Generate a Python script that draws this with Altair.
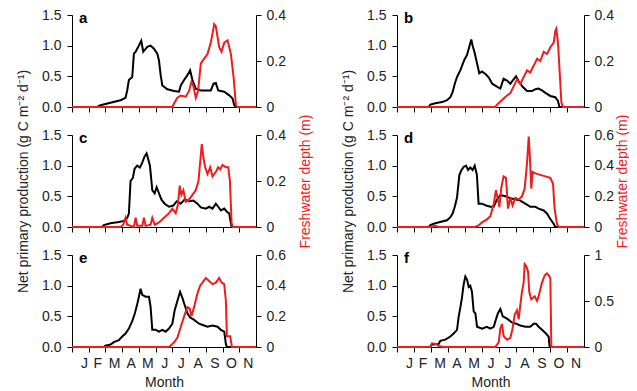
import altair as alt
import pandas as pd

# x values are months since 1 January (0 = 1 Jan, 11 = 1 Dec)
months = ['J', 'F', 'M', 'A', 'M', 'J', 'J', 'A', 'S', 'O', 'N']
letters = ['a', 'b', 'c', 'd', 'e', 'f']
right_max = [0.4, 0.4, 0.4, 0.6, 0.6, 1.0]
right_ticks = [[0, 0.2, 0.4], [0, 0.2, 0.4], [0, 0.2, 0.4],
               [0, 0.2, 0.4, 0.6], [0, 0.2, 0.4, 0.6], [0, 0.5, 1]]

# ---- panel a ----
a_npp_t = [0, 1.5, 1.7, 2.3, 2.9, 3.2, 3.3, 3.4, 3.6, 3.7, 3.8, 4.0, 4.14, 4.26, 4.5, 4.7, 4.9, 5.1, 5.2,
           5.3, 5.4, 5.7, 6.1, 6.4, 6.5, 6.7, 6.9, 7.06, 7.2, 7.4, 7.7, 8.3, 8.46, 8.6, 8.74, 9.1, 9.4,
           9.6, 9.7, 9.8, 11]
a_npp_v = [0, 0, 0.03, 0.07, 0.11, 0.15, 0.27, 0.44, 0.49, 0.87, 0.90, 1.0, 1.08, 0.90, 0.98, 1.0, 0.95,
           0.87, 0.76, 0.52, 0.35, 0.29, 0.26, 0.25, 0.35, 0.44, 0.52, 0.60, 0.44, 0.30, 0.27, 0.27,
           0.38, 0.39, 0.27, 0.25, 0.19, 0.14, 0.03, 0, 0]
a_fw_t = [0, 6.0, 6.1, 6.3, 6.5, 6.8, 7.0, 7.14, 7.26, 7.4, 7.54, 7.7, 7.9, 8.1, 8.3, 8.5, 8.6, 8.8, 8.94,
          9.1, 9.3, 9.5, 9.66, 9.8, 9.9, 11]
a_fw_v = [0, 0, 0.015, 0.04, 0.05, 0.045, 0.07, 0.11, 0.09, 0.04, 0.07, 0.19, 0.21, 0.23, 0.28, 0.36,
          0.35, 0.26, 0.24, 0.28, 0.29, 0.23, 0.13, 0.007, 0, 0]

# ---- panel b ----
b_npp_t = [0, 1.86, 1.96, 2.25, 2.65, 2.94, 3.14, 3.27, 3.4, 3.53, 3.73, 3.86, 3.98, 4.12, 4.25, 4.37,
           4.45, 4.57, 4.7, 4.84, 5.0, 5.2, 5.4, 5.6, 5.78, 6.08, 6.27, 6.47, 6.67, 6.86, 7.0, 7.16, 7.39,
           7.65, 7.94, 8.14, 8.33, 8.53, 8.73, 9.02, 9.31, 9.47, 9.55, 11]
b_npp_v = [0, 0, 0.04, 0.06, 0.08, 0.11, 0.16, 0.24, 0.38, 0.49, 0.60, 0.70, 0.78, 0.85, 0.98, 1.10,
           1.0, 0.88, 0.72, 0.55, 0.58, 0.54, 0.48, 0.38, 0.35, 0.30, 0.46, 0.43, 0.38, 0.45, 0.50, 0.42,
           0.33, 0.26, 0.26, 0.29, 0.30, 0.27, 0.23, 0.18, 0.16, 0.10, 0, 0]
b_fw_t = [0, 5.78, 5.88, 6.18, 6.47, 6.67, 6.86, 7.06, 7.25, 7.45, 7.65, 7.84, 8.04, 8.24, 8.43, 8.63,
          8.82, 9.02, 9.22, 9.31, 9.37, 9.47, 9.57, 9.67, 9.75, 11]
b_fw_v = [0, 0, 0.01, 0.03, 0.05, 0.06, 0.09, 0.12, 0.10, 0.13, 0.16, 0.15, 0.18, 0.21, 0.20, 0.24,
          0.23, 0.26, 0.28, 0.33, 0.34, 0.28, 0.15, 0.02, 0, 0]

# ---- panel c ----
c_npp_t = [0, 1.8, 1.9, 2.3, 2.8, 3.1, 3.3, 3.4, 3.5, 3.64, 3.74, 3.9, 4.06, 4.2, 4.34, 4.46, 4.56,
           4.66, 4.8, 4.94, 5.06, 5.2, 5.34, 5.54, 5.8, 6.06, 6.26, 6.5, 6.74, 7.0, 7.26, 7.5, 7.7, 8.0,
           8.2, 8.4, 8.6, 8.74, 8.9, 9.1, 9.26, 9.4, 9.5, 9.54, 11]
c_npp_v = [0, 0, 0.03, 0.06, 0.08, 0.10, 0.15, 0.22, 0.75, 0.80, 0.95, 1.0, 0.97, 1.05, 1.15, 1.20,
           1.10, 1.0, 0.60, 0.55, 0.65, 0.55, 0.45, 0.38, 0.33, 0.35, 0.42, 0.38, 0.45, 0.42, 0.43,
           0.38, 0.32, 0.30, 0.33, 0.30, 0.38, 0.33, 0.27, 0.30, 0.25, 0.22, 0.06, 0, 0]
c_fw_t = [0, 2.9, 3.06, 3.2, 3.3, 3.7, 3.8, 3.9, 4.2, 4.3, 4.4, 4.7, 4.8, 4.94, 5.2, 5.5, 5.8, 6.0,
          6.2, 6.34, 6.44, 6.54, 6.66, 6.8, 7.0, 7.2, 7.4, 7.56, 7.66, 7.76, 7.86, 7.96, 8.1, 8.26,
          8.4, 8.6, 8.74, 8.86, 9.0, 9.2, 9.34, 9.44, 9.54, 9.6, 11]
c_fw_v = [0, 0, 0.01, 0.04, 0.01, 0, 0.04, 0.005, 0.005, 0.04, 0.005, 0.01, 0.04, 0.01, 0.02, 0.04,
          0.06, 0.08, 0.06, 0.10, 0.18, 0.14, 0.16, 0.11, 0.12, 0.14, 0.16, 0.20, 0.28, 0.36, 0.30,
          0.26, 0.23, 0.26, 0.22, 0.24, 0.26, 0.25, 0.27, 0.26, 0.26, 0.20, 0.02, 0, 0]

# ---- panel d ----
d_npp_t = [0, 1.86, 1.96, 2.25, 2.65, 2.94, 3.14, 3.27, 3.4, 3.53, 3.67, 3.78, 3.92, 4.06, 4.18, 4.31,
           4.45, 4.57, 4.7, 4.8, 5.0, 5.24, 5.49, 5.69, 5.88, 6.08, 6.37, 6.67, 6.96, 7.25, 7.55, 7.84,
           8.14, 8.33, 8.63, 8.82, 9.02, 9.22, 9.31, 11]
d_npp_v = [0, 0, 0.03, 0.06, 0.09, 0.11, 0.16, 0.22, 0.33, 0.48, 0.85, 0.92, 0.98, 1.0, 0.93, 0.97,
           0.93, 1.0, 0.85, 0.38, 0.38, 0.35, 0.33, 0.33, 0.45, 0.52, 0.50, 0.47, 0.45, 0.43, 0.38,
           0.33, 0.33, 0.30, 0.27, 0.22, 0.13, 0.05, 0, 0]
d_fw_t = [0, 2.06, 2.16, 2.45, 4.6, 4.8, 5.0, 5.29, 5.49, 5.69, 5.82, 5.94, 6.02, 6.14, 6.27, 6.41,
          6.53, 6.67, 6.8, 6.96, 7.16, 7.35, 7.51, 7.65, 7.75, 7.82, 7.9, 7.98, 8.14, 8.43, 8.73, 9.02,
          9.18, 9.27, 9.41, 9.51, 11]
d_fw_v = [0, 0, 0.01, 0, 0, 0.01, 0.03, 0.05, 0.07, 0.15, 0.24, 0.18, 0.13, 0.26, 0.33, 0.32, 0.12,
          0.19, 0.14, 0.19, 0.18, 0.20, 0.25, 0.42, 0.59, 0.45, 0.25, 0.36, 0.35, 0.34, 0.33, 0.32,
          0.28, 0.12, 0.02, 0, 0]

# ---- panel e ----
e_npp_t = [0, 1.9, 2.0, 2.3, 2.5, 2.8, 3.0, 3.2, 3.4, 3.6, 3.76, 3.9, 4.0, 4.1, 4.2, 4.4, 4.6, 4.7,
           4.8, 5.0, 5.2, 5.4, 5.6, 5.8, 6.0, 6.14, 6.3, 6.46, 6.6, 6.74, 6.9, 7.06, 7.26, 7.6, 7.9,
           8.1, 8.4, 8.7, 8.9, 9.1, 9.2, 9.26, 11]
e_npp_v = [0, 0, 0.02, 0.04, 0.08, 0.11, 0.17, 0.22, 0.30, 0.42, 0.55, 0.70, 0.82, 0.95, 0.85, 0.82,
           0.82, 0.65, 0.28, 0.28, 0.25, 0.28, 0.25, 0.30, 0.38, 0.60, 0.75, 0.90, 0.80, 0.68, 0.55,
           0.48, 0.45, 0.38, 0.35, 0.33, 0.35, 0.33, 0.28, 0.25, 0.05, 0, 0]
e_fw_t = [0, 5.8, 5.9, 6.1, 6.3, 6.5, 6.7, 6.9, 7.04, 7.14, 7.3, 7.5, 7.66, 7.8, 8.0, 8.2, 8.4, 8.6,
          8.8, 8.94, 9.1, 9.2, 9.26, 9.46, 9.56, 11]
e_fw_v = [0, 0, 0.01, 0.03, 0.06, 0.13, 0.20, 0.26, 0.25, 0.20, 0.26, 0.35, 0.40, 0.42, 0.45, 0.43,
          0.41, 0.42, 0.45, 0.42, 0.41, 0.30, 0.07, 0.07, 0, 0]

# ---- panel f ----
f_npp_t = [0, 1.96, 2.06, 2.45, 2.55, 2.84, 3.14, 3.33, 3.53, 3.63, 3.73, 3.82, 3.92, 4.02, 4.12, 4.22,
           4.31, 4.41, 4.51, 4.61, 4.71, 5.0, 5.29, 5.49, 5.69, 5.82, 5.94, 6.08, 6.22, 6.37, 6.53,
           6.76, 7.0, 7.25, 7.55, 7.84, 8.04, 8.18, 8.33, 8.53, 8.76, 8.92, 8.98, 11]
f_npp_v = [0, 0, 0.04, 0.05, 0.10, 0.12, 0.17, 0.22, 0.28, 0.50, 0.65, 0.80, 1.02, 1.15, 1.10, 0.98,
           1.0, 0.90, 0.58, 0.55, 0.33, 0.30, 0.33, 0.30, 0.33, 0.45, 0.55, 0.62, 0.50, 0.48, 0.45,
           0.40, 0.38, 0.35, 0.33, 0.33, 0.38, 0.38, 0.33, 0.28, 0.22, 0.17, 0, 0]
f_fw_t = [0, 1.96, 2.06, 2.35, 2.45, 2.75, 5.78, 5.98, 6.08, 6.18, 6.27, 6.47, 6.67, 6.8, 6.92, 7.06,
          7.16, 7.25, 7.35, 7.45, 7.51, 7.6, 7.71, 7.78, 7.9, 8.1, 8.24, 8.33, 8.53, 8.69, 8.82, 8.92,
          9.02, 9.08, 11]
f_fw_v = [0, 0, 0.04, 0.03, 0.01, 0, 0, 0.05, 0.20, 0.25, 0.12, 0.08, 0.10, 0.20, 0.35, 0.40, 0.30,
          0.45, 0.60, 0.70, 0.90, 0.88, 0.82, 0.60, 0.52, 0.55, 0.50, 0.55, 0.70, 0.78, 0.80, 0.78,
          0.75, 0, 0]

npp_t = [a_npp_t, b_npp_t, c_npp_t, d_npp_t, e_npp_t, f_npp_t]
npp_v = [a_npp_v, b_npp_v, c_npp_v, d_npp_v, e_npp_v, f_npp_v]
fw_t = [a_fw_t, b_fw_t, c_fw_t, d_fw_t, e_fw_t, f_fw_t]
fw_v = [a_fw_v, b_fw_v, c_fw_v, d_fw_v, e_fw_v, f_fw_v]

FONT = "Liberation Sans"
RED = '#ee1c1c'
label_expr = "['J','F','M','A','M','J','J','A','S','O','N'][datum.value]"
PANEL_H = 92


def panel(i):
    row, col = divmod(i, 2)
    bottom = row == 2
    middle = row == 1
    width = 184 if col == 0 else 187
    xscale = alt.Scale(domain=[0, 11], nice=False)
    if bottom:
        xaxis = alt.Axis(values=list(range(11)), labelExpr=label_expr, labelOffset=8.5,
                         title='Month', labelPadding=4, titlePadding=5)
    else:
        xaxis = alt.Axis(values=list(range(11)), labels=False, title=None)

    if middle:
        left_axis = alt.Axis(orient='left', values=[0, 0.5, 1, 1.5], format='.1f',
                             title='Net primary production (g C m\u207b\u00b2 d\u207b\u00b9)',
                             titlePadding=11)
        right_axis = alt.Axis(orient='right', values=right_ticks[i], format='~g', labelPadding=5,
                              title='Freshwater depth (m)', titleColor=RED, titleAngle=270,
                              titleX=49 if col == 0 else 38, titleY=PANEL_H / 2,
                              titleAlign='center', titleBaseline='middle')
    else:
        left_axis = alt.Axis(orient='left', values=[0, 0.5, 1, 1.5], format='.1f', title=None)
        right_axis = alt.Axis(orient='right', values=right_ticks[i], format='~g', labelPadding=5,
                              title=None)

    black = alt.Chart(pd.DataFrame({'t': npp_t[i], 'v': npp_v[i]})).mark_line(
        color='black', strokeWidth=2).encode(
        x=alt.X('t:Q', scale=xscale, axis=xaxis),
        y=alt.Y('v:Q', scale=alt.Scale(domain=[0, 1.5], nice=False), axis=left_axis),
    )
    red = alt.Chart(pd.DataFrame({'t': fw_t[i], 'v': fw_v[i]})).mark_line(
        color=RED, strokeWidth=2).encode(
        x=alt.X('t:Q', scale=xscale, axis=xaxis),
        y=alt.Y('v:Q', scale=alt.Scale(domain=[0, right_max[i]], nice=False), axis=right_axis),
    )
    letter = alt.Chart(pd.DataFrame({'l': [letters[i]]})).mark_text(
        align='left', baseline='alphabetic', fontSize=15, fontWeight='bold', font=FONT,
        color='black').encode(x=alt.value(7), y=alt.value(8), text='l:N')
    return alt.layer(black, red, letter).resolve_scale(y='independent').properties(
        width=width, height=PANEL_H)


chart = alt.concat(*[panel(i) for i in range(6)], columns=2,
                   spacing={"row": 28, "column": 141}, bounds='flush').properties(
    autosize=alt.AutoSizeParams(type='none'),
    padding={"left": 64, "top": 7, "right": 557, "bottom": 383}
).configure_view(stroke=None).configure_axis(
    grid=False, domainColor='black', tickColor='black', tickSize=5, labelFont=FONT,
    titleFont=FONT, labelFontSize=14, titleFontSize=14, titleFontWeight='normal',
    labelColor='#222', titleColor='#222', labelPadding=6, domainWidth=1, tickWidth=1
)

chart.save("out.html", embed_options={"renderer": "svg", "actions": False})
